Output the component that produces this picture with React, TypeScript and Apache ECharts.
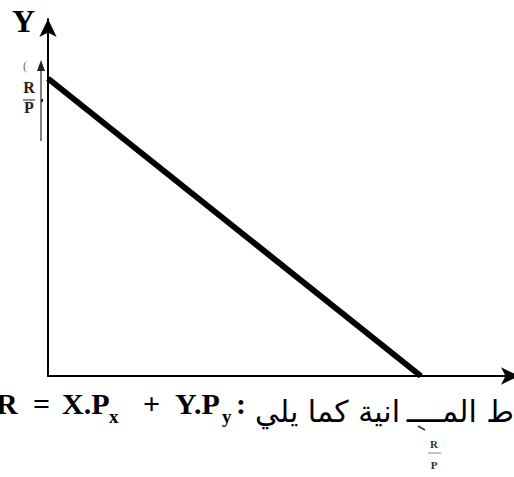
import React, { useEffect, useRef } from "react";
import * as echarts from "echarts";

// Budget line: intercepts R/Px on the X axis and R/Py on the Y axis
const budgetX = [0, 10];
const budgetY = [10, 0];
const xAxisMax = 12.5;
const yAxisMax = 12;

const yAxisName = "Y";
const interceptNum = "R";
const interceptDen = "P";
// Budget equation pieces: R = X.Px + Y.Py:
const formulaParts = ["R", "=", "X.P", "x", "+", "Y.P", "y", ":"];
const formulaSub = [false, false, false, true, false, false, true, false];
const formulaX = [-4, 33, 62, 109, 143, 175, 222, 236];
const arabicRight = "ط المــــ";
const arabicLeft = "انية كما يلي";

const SERIF = "'Liberation Serif', 'Times New Roman', serif";
const ARABIC = "'DejaVu Sans', sans-serif";
// distance from the alphabetic baseline to the centre of the em box
const SERIF_MID = 0.3375;
const ARABIC_MID = 0.346;
const ARABIC_SIZE = 30;

const serifText = (
  text: string,
  x: number,
  baseline: number,
  size: number,
  opts: { bold?: boolean; fill?: string; align?: string } = {}
) => ({
  type: "text",
  x,
  y: baseline - SERIF_MID * size,
  style: {
    text,
    font: `${opts.bold === false ? "" : "bold "}${size}px ${SERIF}`,
    fill: opts.fill ?? "#000",
    textAlign: opts.align ?? "left",
    textVerticalAlign: "middle",
  },
});

const arabicText = (text: string, right: number, baseline: number) => ({
  type: "text",
  x: right,
  y: baseline - ARABIC_MID * ARABIC_SIZE,
  style: {
    text,
    font: `${ARABIC_SIZE}px ${ARABIC}`,
    fill: "#000",
    textAlign: "right",
    textVerticalAlign: "middle",
  },
});

export default function App() {
  const ref = useRef<HTMLDivElement>(null);

  useEffect(() => {
    if (!ref.current) return;
    const chart = echarts.init(ref.current, undefined, { renderer: "svg" });

    const formulaGraphics = formulaParts.map((t, i) =>
      serifText(t, formulaX[i], formulaSub[i] ? 423 : 414, formulaSub[i] ? 19 : 30)
    );

    const axisLine = {
      show: true,
      onZero: false,
      lineStyle: { color: "#000", width: 2 },
      symbol: ["none", "arrow"],
      symbolSize: [13, 18],
    };

    chart.setOption({
      animation: false,
      backgroundColor: "#fff",
      grid: { left: 48, top: 19, right: 0, bottom: 101, containLabel: false },
      xAxis: {
        type: "value",
        min: 0,
        max: xAxisMax,
        axisLine: { ...axisLine, symbolOffset: [0, 5] },
        axisTick: { show: false },
        axisLabel: { show: false },
        splitLine: { show: false },
      },
      yAxis: {
        type: "value",
        min: 0,
        max: yAxisMax,
        axisLine,
        axisTick: { show: false },
        axisLabel: { show: false },
        splitLine: { show: false },
      },
      series: [
        {
          type: "line",
          data: budgetX.map((x, i) => [x, budgetY[i]]),
          symbol: "none",
          clip: false,
          lineStyle: { color: "#000", width: 6 },
        },
      ],
      graphic: [
        serifText(yAxisName, 12, 32, 32),
        // small marker arrow beside the Y axis
        {
          type: "line",
          shape: { x1: 41, y1: 141, x2: 41, y2: 68 },
          style: { stroke: "#555", lineWidth: 1.5 },
        },
        {
          type: "polygon",
          shape: { points: [[37, 71], [45, 71], [41, 60]] },
          style: { fill: "#222" },
        },
        { type: "rect", shape: { x: 41, y: 99, width: 2, height: 3 }, style: { fill: "#222" } },
        serifText("(", 23, 70, 12, { bold: false, fill: "#666" }),
        serifText(interceptNum, 29, 93, 16, { fill: "#222", align: "center" }),
        {
          type: "line",
          shape: { x1: 23, y1: 100, x2: 35, y2: 100 },
          style: { stroke: "#666", lineWidth: 1.5 },
        },
        serifText(interceptDen, 29, 113, 16, { fill: "#222", align: "center" }),
        ...formulaGraphics,
        arabicText(arabicRight, 514, 422),
        arabicText(arabicLeft, 400, 422),
        {
          type: "line",
          shape: { x1: 418, y1: 426, x2: 425, y2: 430 },
          style: { stroke: "#333", lineWidth: 1.5 },
        },
        // small intercept label under the X axis
        serifText(interceptNum, 434, 448, 11, { fill: "#333", align: "center" }),
        {
          type: "line",
          shape: { x1: 428, y1: 453, x2: 441, y2: 453 },
          style: { stroke: "#888", lineWidth: 1 },
        },
        serifText(interceptDen, 434, 469, 11, { fill: "#333", align: "center" }),
      ],
    });

    return () => chart.dispose();
  }, []);

  return (
    <div
      ref={ref}
      style={{ position: "fixed", left: 0, top: 0, width: 514, height: 477, background: "#fff" }}
    />
  );
}
